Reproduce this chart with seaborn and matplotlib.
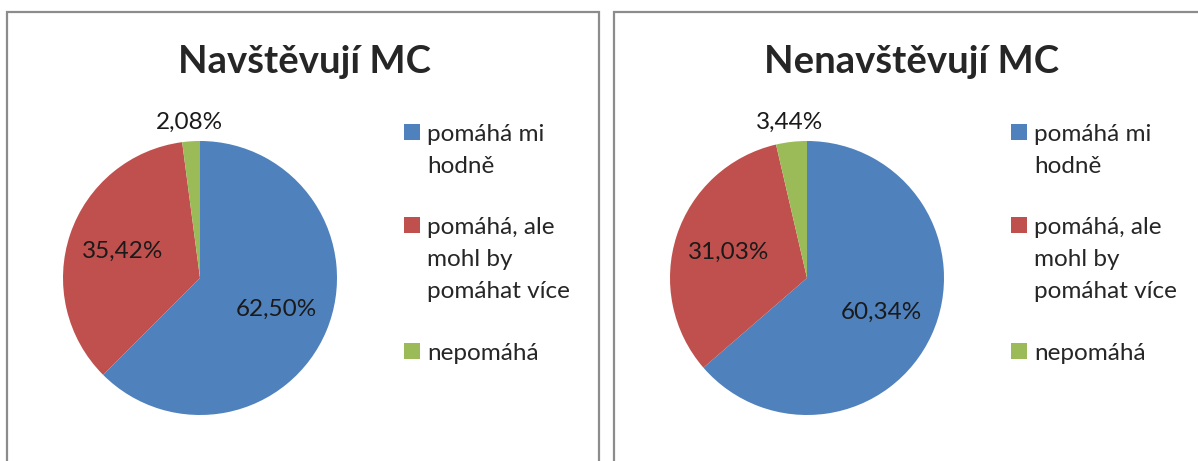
import matplotlib
matplotlib.use("Agg")
import matplotlib.pyplot as plt
from matplotlib.patches import Rectangle
import numpy as np
import seaborn as sns

W, H = 1198, 461

TITLES = ["Navštěvují MC", "Nenavštěvují MC"]
CATEGORIES = ["pomáhá mi\nhodně", "pomáhá, ale\nmohl by\npomáhat více", "nepomáhá"]
VISIT = [62.50, 35.42, 2.08]
NO_VISIT = [60.34, 31.03, 3.44]
COLORS = ["#4F81BD", "#C0504D", "#9BBB59"]

sns.set_theme(style="white")
plt.rcParams["font.family"] = ["Lato", "DejaVu Sans"]

FS = 17.5


def px_rect(x0, y0, w, h):
    # pixel box (top-left origin) -> figure fraction
    return [x0 / W, 1 - (y0 + h) / H, w / W, h / H]


def draw_panel(fig, values, title, box_x, box_w, pie_cx):
    fig.patches.append(
        Rectangle((box_x / W, -0.1), box_w / W, 1.1 - 12 / H,
                  transform=fig.transFigure, fill=False,
                  edgecolor="#8c8c8c", linewidth=1.6)
    )
    r = 137
    ax = fig.add_axes(px_rect(pie_cx - r, 278 - r, 2 * r, 2 * r))
    wedges, _ = ax.pie(
        values, colors=COLORS, startangle=90, counterclock=False,
        radius=1.0, wedgeprops=dict(linewidth=0),
    )
    # labels show the raw values, placed like Excel's best fit
    for i, (w, v) in enumerate(zip(wedges, values)):
        mid = np.deg2rad((w.theta1 + w.theta2) / 2)
        d = 1.14 if i == 2 else 0.6
        ax.text(d * np.cos(mid), d * np.sin(mid), f"{v:.2f}%".replace(".", ","),
                ha="center", va="center", fontsize=FS, color="#1a1a1a")
    ax.set_xlim(-1, 1)
    ax.set_ylim(-1, 1)
    ax.set_aspect("equal")

    fig.text((pie_cx + 105) / W, 1 - 62 / H, title,
             ha="center", va="center", fontsize=27.5, fontweight="bold")

    leg = fig.legend(
        wedges, CATEGORIES, loc="upper left",
        bbox_to_anchor=((pie_cx + 204) / W, 1 - 124 / H),
        frameon=False, fontsize=FS, handlelength=0.64, handleheight=0.64,
        handletextpad=0.3, labelspacing=1.66, borderpad=0, borderaxespad=0,
    )
    for t in leg.get_texts():
        t.set_linespacing(1.65)
    # square sits next to the first line of each label
    for col in leg._legend_handle_box.get_children():
        for row in col.get_children():
            row.align = "top"
    return ax


fig = plt.figure(figsize=(W / 100, H / 100), dpi=100)
fig.patch.set_facecolor("white")

ax1 = draw_panel(fig, VISIT, TITLES[0], 7, 592, 200)
ax2 = draw_panel(fig, NO_VISIT, TITLES[1], 614, 640, 807)

fig.savefig("out.png", dpi=100, facecolor="white")
